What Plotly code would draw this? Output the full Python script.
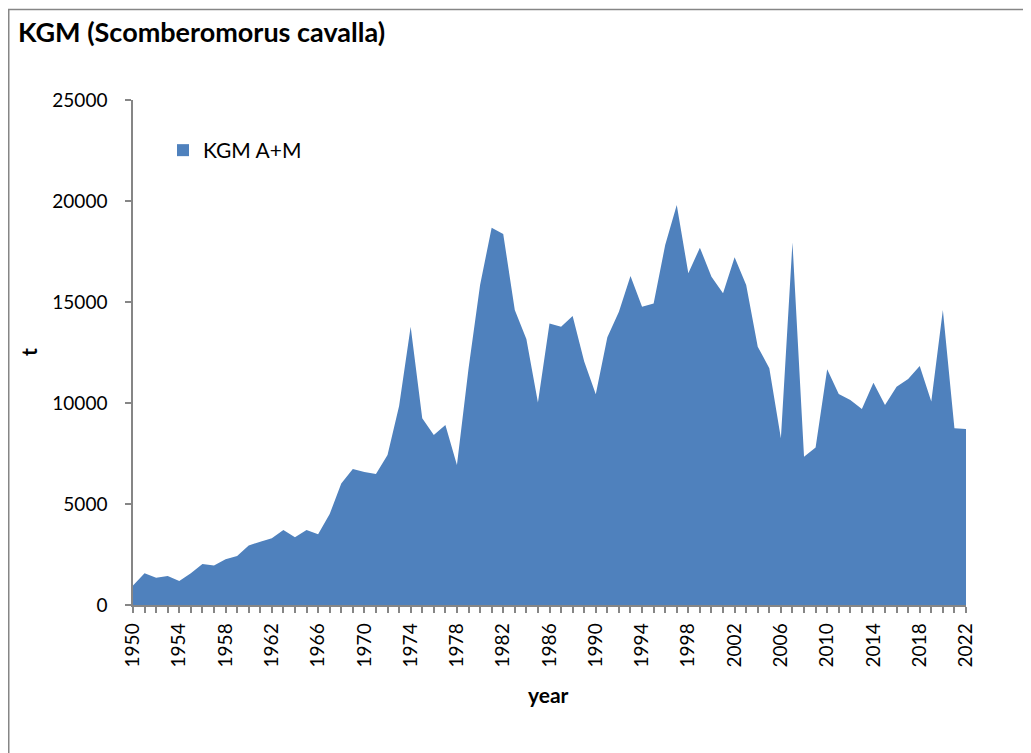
import plotly.graph_objects as go

years = list(range(1950, 2023))
landings_t = [
    960, 1570, 1350, 1435, 1190, 1570, 2030, 1950, 2260, 2425,
    2940, 3135, 3300, 3710, 3350, 3710, 3500, 4500, 6020, 6730,
    6580, 6485, 7425, 9850, 13780, 9240, 8415, 8910, 6930, 11700,
    15840, 18680, 18370, 14600, 13170, 10020, 13940, 13780, 14310, 12050,
    10430, 13250, 14520, 16290, 14770, 14930, 17820, 19800, 16420, 17690,
    16250, 15430, 17210, 15840, 12790, 11720, 8250, 17940, 7340, 7800,
    11670, 10450, 10150, 9700, 11000, 9900, 10810, 11190, 11830, 10070,
    14600, 8750, 8710,
]
tick_years = list(range(1950, 2023, 4))
tick_labels = [str(y) for y in tick_years]
y_ticks = [0, 5000, 10000, 15000, 20000, 25000]
y_labels = [str(v) for v in y_ticks]

FILL = "#4F81BD"
AXIS = "#868686"
FONT = "Lato"

OFF = 8  # page body margin
W, H = 1023, 745
L, R, T, B = 125, 65, 92, 148
pw, ph = W - L - R, H - T - B


def px_x(px):
    return (px - OFF - L) / pw


def px_y(py):
    return (H - B - (py - OFF)) / ph


fig = go.Figure()
fig.add_trace(go.Scatter(
    x=years, y=landings_t, mode="none", fill="tozeroy",
    fillcolor=FILL, showlegend=False, hoverinfo="x+y",
))
fig.add_trace(go.Scatter(
    x=[None], y=[None], mode="markers", name="KGM A+M",
    marker=dict(symbol="square", size=13, color=FILL),
))

fig.update_layout(
    width=W, height=H,
    margin=dict(l=L, r=R, t=T, b=B),
    paper_bgcolor="white", plot_bgcolor="white",
    font=dict(family=FONT, size=20, color="#000000"),
    title=dict(
        text="<b>KGM (Scomberomorus cavalla)</b>",
        x=(18 - OFF) / W, xref="container", xanchor="left",
        y=1 - (33 - OFF) / H, yref="container", yanchor="middle",
        font=dict(family=FONT, size=27, color="#000000"),
    ),
    showlegend=True,
    legend=dict(
        x=px_x(163), y=px_y(130), xanchor="left", yanchor="top",
        bgcolor="rgba(0,0,0,0)", font=dict(family=FONT, size=21),
        itemsizing="constant",
    ),
    xaxis=dict(
        range=[1950, 2022], tickmode="array", tickvals=tick_years,
        ticktext=tick_labels, tickangle=-90, ticks="outside", ticklen=6,
        tickcolor=AXIS, tickwidth=1.5, showline=True, linecolor=AXIS,
        linewidth=1.5, showgrid=False, zeroline=False,
        tickfont=dict(family=FONT, size=19), ticklabelstandoff=3,
        minor=dict(dtick=1, tick0=1950, ticks="outside", ticklen=6,
                   tickcolor=AXIS, tickwidth=1.5, showgrid=False),
    ),
    yaxis=dict(
        range=[0, 25000], tickmode="array", tickvals=y_ticks,
        ticktext=y_labels,
        ticks="outside", ticklen=6, tickcolor=AXIS, tickwidth=1.5,
        showline=True, linecolor=AXIS, linewidth=1.5, showgrid=False,
        zeroline=False, tickfont=dict(family=FONT, size=19),
        ticklabelstandoff=14,
    ),
    annotations=[
        dict(text="<b>t</b>", xref="paper", yref="paper",
             x=px_x(28), y=px_y(352), xanchor="center", yanchor="middle",
             textangle=-90, showarrow=False,
             font=dict(family=FONT, size=21)),
        dict(text="<b>year</b>", xref="paper", yref="paper",
             x=px_x(548), y=px_y(694), xanchor="center", yanchor="middle",
             showarrow=False, font=dict(family=FONT, size=21)),
    ],
    shapes=[
        dict(type="rect", xref="paper", yref="paper",
             x0=(0.75 - L) / pw, x1=px_x(1045), y0=px_y(770), y1=px_y(9.5),
             line=dict(color=AXIS, width=1.5), layer="below"),
    ],
)

fig.write_html("out.html")
